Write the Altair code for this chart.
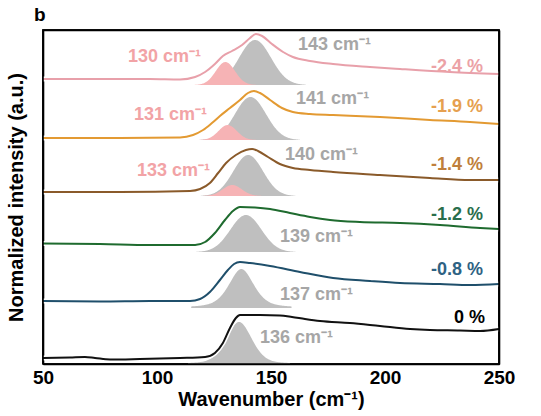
import altair as alt
import numpy as np
import pandas as pd

# ---- measured Raman spectra, stacked by strain level (offset intensities) ----
strain_labels = ["-2.4 %", "-1.9 %", "-1.4 %", "-1.2 %", "-0.8 %", "0 %"]
line_colors = ["#e8a0aa", "#e39a32", "#8a5a2a", "#1f6b2f", "#1f4f6b", "#111111"]
text_colors = ["#eca2a6", "#e6a04f", "#c07f3c", "#2a6e4c", "#2e6283", "#000000"]

wn_m24 = [50, 75.0, 96.9, 110.1, 116.7, 121.1, 125.4, 128.9, 132.9, 137.3, 140.8, 143.4,
          146.1, 150.4, 155.3, 159.6, 167.1, 177.2, 193.4, 206.6, 228.5, 250]
int_m24 = [5.70, 5.70, 5.70, 5.69, 5.74, 5.84, 6.00, 6.16, 6.26, 6.38, 6.52, 6.60,
           6.56, 6.40, 6.24, 6.14, 6.06, 6.00, 5.94, 5.90, 5.84, 5.80]

wn_m19 = [50, 83.8, 110.1, 115.8, 120.2, 124.1, 127.6, 132.0, 136.4, 139.9, 142.5,
          145.2, 149.6, 154.8, 159.6, 167.1, 177.2, 197.8, 219.7, 237.3, 250]
int_m19 = [4.52, 4.52, 4.53, 4.58, 4.68, 4.82, 4.96, 5.12, 5.28, 5.42, 5.46,
           5.42, 5.28, 5.12, 5.04, 5.00, 4.98, 4.94, 4.88, 4.84, 4.80]

wn_m14 = [50, 83.8, 114.5, 118.9, 123.2, 126.8, 130.3, 134.6, 139.0, 141.7, 144.3,
          148.7, 153.9, 159.6, 167.1, 177.2, 197.8, 219.7, 237.3, 250]
int_m14 = [3.44, 3.44, 3.46, 3.50, 3.62, 3.82, 4.02, 4.18, 4.28, 4.30, 4.26,
           4.14, 4.00, 3.92, 3.88, 3.84, 3.78, 3.72, 3.68, 3.68]

wn_m12 = [50, 75.0, 96.9, 116.7, 121.1, 125.4, 129.8, 133.3, 136.4, 143.0, 149.6,
          158.3, 167.1, 175.9, 189.0, 206.6, 224.1, 241.7, 250]
int_m12 = [2.41, 2.40, 2.38, 2.38, 2.44, 2.62, 2.88, 3.06, 3.14, 3.13, 3.10,
           3.02, 2.94, 2.88, 2.84, 2.82, 2.78, 2.72, 2.70]

wn_m08 = [50, 75.0, 96.9, 114.5, 118.9, 123.2, 127.6, 131.1, 133.8, 136.4, 140.8,
          149.6, 162.7, 177.2, 193.4, 206.6, 224.1, 237.3, 250]
int_m08 = [1.26, 1.25, 1.26, 1.26, 1.30, 1.44, 1.68, 1.88, 2.00, 2.04, 2.02,
           1.96, 1.84, 1.72, 1.66, 1.62, 1.60, 1.58, 1.60]

wn_0 = [50, 61.8, 68.4, 72.8, 79.4, 92.5, 110.1, 121.1, 125.4, 128.9, 132.0, 134.6,
        136.4, 145.2, 153.9, 159.2, 164.9, 171.5, 184.6, 197.8, 211.0, 219.7,
        232.9, 241.7, 250]
int_0 = [0.12, 0.13, 0.14, 0.12, 0.09, 0.10, 0.12, 0.14, 0.22, 0.42, 0.72, 0.92,
         0.98, 0.98, 0.97, 0.94, 0.90, 0.86, 0.82, 0.76, 0.70, 0.68,
         0.67, 0.66, 0.70]

spectra_wn = [wn_m24, wn_m19, wn_m14, wn_m12, wn_m08, wn_0]
spectra_int = [int_m24, int_m19, int_m14, int_m12, int_m08, int_0]

# ---- fitted peak components (center, baseline offset, height, sigma, lorentz fraction) ----
main_center = [143, 141, 140, 139, 137, 136]
main_base = [5.58, 4.48, 3.36, 2.24, 1.12, 0.0]
main_height = [0.90, 0.86, 0.82, 0.74, 0.78, 0.84]
main_sigma = [7.0, 6.8, 6.5, 6.8, 5.5, 5.6]
main_eta = [0.0, 0.0, 0.0, 0.0, 0.5, 0.3]

side_center = [130, 131, 133]
side_base = [5.58, 4.48, 3.36]
side_height = [0.46, 0.30, 0.22]
side_sigma = [4.2, 4.0, 4.2]


def pseudo_voigt(x, c, h, s, eta):
    g = np.exp(-0.5 * ((x - c) / s) ** 2)
    gamma = s * 1.1774
    lo = 1.0 / (1.0 + ((x - c) / gamma) ** 2)
    return h * ((1 - eta) * g + eta * lo)


def peak_frame(centers, bases, heights, sigmas, etas, tag):
    rows = []
    for i, (c, b, h, s, e) in enumerate(zip(centers, bases, heights, sigmas, etas)):
        half = 3.2 * s if e == 0 else 4.0 * s
        xs = np.arange(c - half, c + half + 0.01, 0.25)
        ys = pseudo_voigt(xs, c, h, s, e)
        for xv, yv in zip(xs, ys):
            rows.append({"peak": f"{tag}{i}", "wn": xv, "base": b, "val": b + yv})
    return pd.DataFrame(rows)


main_df = peak_frame(main_center, main_base, main_height, main_sigma, main_eta, "m")
side_df = peak_frame(side_center, side_base, side_height, side_sigma, [0, 0, 0], "s")

spec_rows = []
for lab, xs, ys in zip(strain_labels, spectra_wn, spectra_int):
    for xv, yv in zip(xs, ys):
        spec_rows.append({"strain": lab, "wn": xv, "intensity": yv})
spec_df = pd.DataFrame(spec_rows)

# ---- annotation texts ----
peak_text = ["130 cm⁻¹", "143 cm⁻¹", "131 cm⁻¹", "141 cm⁻¹", "133 cm⁻¹", "140 cm⁻¹",
             "139 cm⁻¹", "137 cm⁻¹", "136 cm⁻¹"]
peak_text_x = [87.3, 161.8, 89.9, 161.0, 91.2, 156.1, 153.9, 153.9, 145.2]
peak_text_y = [6.14, 6.38, 4.98, 5.30, 3.86, 4.18, 2.54, 1.38, 0.52]
pink_text, gray_text = "#f2a3a6", "#a6a6a6"
peak_text_col = [pink_text, gray_text, pink_text, gray_text, pink_text, gray_text,
                 gray_text, gray_text, gray_text]
strain_text_x = [243.0, 243.0, 243.0, 243.0, 243.0, 243.9]
strain_text_y = [5.94, 5.14, 3.98, 2.98, 1.88, 0.92]

FONT = "Liberation Sans"
W, H = 456, 334
X_MIN, X_MAX = 50, 250
Y_MIN, Y_MAX = 0, 6.68
xscale = alt.Scale(domain=[X_MIN, X_MAX], nice=False, zero=False)
yscale = alt.Scale(domain=[Y_MIN, Y_MAX], nice=False, zero=False)


def xq(field):
    return alt.X(field, scale=xscale, axis=None)


def yq(field):
    return alt.Y(field, scale=yscale, axis=None)


# bottom / left axes carry the labels, titles and two sides of the box
main_layer = alt.Chart(main_df).mark_area(color="#bfbfbf", opacity=1).encode(
    x=alt.X("wn:Q", scale=xscale,
            axis=alt.Axis(title="Wavenumber (cm⁻¹)", values=[50, 100, 150, 200, 250],
                          labelFlush=False, ticks=False, grid=False,
                          domain=True, domainColor="#000", domainWidth=1.6,
                          labelFontSize=19, labelFontWeight="bold", labelColor="#000",
                          labelPadding=4, titleFontSize=20, titleFontWeight="bold",
                          titleColor="#000", titlePadding=2, labelFont=FONT, titleFont=FONT)),
    y=alt.Y("val:Q", scale=yscale,
            axis=alt.Axis(title="Normalized intensity (a.u.)", labels=False, ticks=False,
                          grid=False, domain=True, domainColor="#000", domainWidth=1.6,
                          titleFontSize=20, titleFontWeight="bold",
                          titleColor="#000", titlePadding=17, titleFont=FONT)),
    y2="base:Q",
    detail="peak:N",
)

side_layer = alt.Chart(side_df).mark_area(color="#f6b3b5", opacity=1).encode(
    x=xq("wn:Q"), y=yq("val:Q"), y2="base:Q", detail="peak:N"
)

halo = alt.Chart(spec_df).mark_line(color="white", strokeWidth=5, interpolate="monotone").encode(
    x=xq("wn:Q"), y=yq("intensity:Q"), detail="strain:N"
)

# one line layer per spectrum, each with its own fixed colour
line_layers = []
for lab, col in zip(strain_labels, line_colors):
    line_layers.append(
        alt.Chart(spec_df).transform_filter(alt.datum.strain == lab)
        .mark_line(strokeWidth=2, interpolate="monotone", color=col)
        .encode(x=xq("wn:Q"), y=yq("intensity:Q"))
    )

# annotation layers, one text mark per label with fixed colour
text_layers = []
for t, x, y, c in zip(peak_text, peak_text_x, peak_text_y, peak_text_col):
    text_layers.append(
        alt.Chart(pd.DataFrame({"t": [t], "x": [x], "y": [y]}))
        .mark_text(align="left", baseline="middle", fontSize=18, fontWeight="bold",
                   font=FONT, color=c)
        .encode(x=xq("x:Q"), y=yq("y:Q"), text="t:N")
    )
for t, x, y, c in zip(strain_labels, strain_text_x, strain_text_y, text_colors):
    text_layers.append(
        alt.Chart(pd.DataFrame({"t": [t], "x": [x], "y": [y]}))
        .mark_text(align="right", baseline="middle", fontSize=18, fontWeight="bold",
                   font=FONT, color=c)
        .encode(x=xq("x:Q"), y=yq("y:Q"), text="t:N")
    )

# closed box around the plotting range; its top / right axes close the frame
frame_df = pd.DataFrame({
    "wn": [X_MIN, X_MIN, X_MAX, X_MAX, X_MIN],
    "intensity": [Y_MIN, Y_MAX, Y_MAX, Y_MIN, Y_MIN],
    "k": [0, 1, 2, 3, 4],
})
edge_axis = dict(labels=False, ticks=False, grid=False, domain=True,
                 domainColor="#000", domainWidth=1.6, title=None)
frame = alt.Chart(frame_df).mark_line(color="#000", strokeWidth=1.6).encode(
    x=alt.X("wn:Q", scale=xscale, axis=alt.Axis(orient="top", **edge_axis)),
    y=alt.Y("intensity:Q", scale=yscale, axis=alt.Axis(orient="right", **edge_axis)),
    order="k:Q",
)

# panel letter above the top-left corner
panel = alt.Chart(pd.DataFrame({"t": ["b"]})).mark_text(
    align="left", baseline="middle", fontSize=19, fontWeight="bold", font=FONT, color="#000"
).encode(x=alt.value(-9), y=alt.value(-15), text="t:N")

chart = alt.layer(main_layer, side_layer, halo, *line_layers, *text_layers,
                  frame, panel).resolve_axis(
    x="independent", y="independent"
).properties(
    width=W,
    height=H,
    autosize=alt.AutoSizeParams(type="none"),
    padding={"left": 43, "top": 30, "right": 42, "bottom": 52},
    background="white",
).configure_view(stroke="#000", strokeWidth=1.6)

chart.save("out.html", embed_options={"renderer": "svg", "actions": False})
